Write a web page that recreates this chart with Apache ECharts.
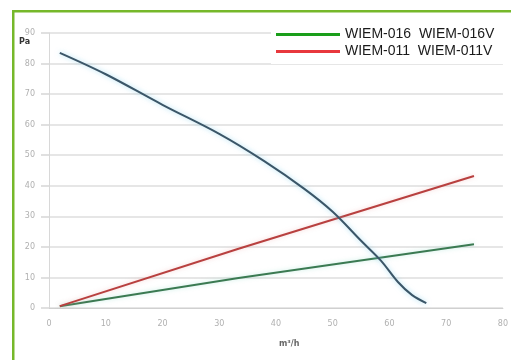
<!DOCTYPE html>
<html><head><meta charset="utf-8">
<script src="https://cdn.jsdelivr.net/npm/echarts@6/dist/echarts.min.js"></script>
<style>html,body{margin:0;padding:0;background:#fff}#c{width:511px;height:360px}</style>
</head><body><div id="c"></div>
<script>
const yTicks = [0,10,20,30,40,50,60,70,80,90];
const xTicks = [0,10,20,30,40,50,60,70,80];
const fanCurve = [[1.9,83.5],[10,76.5],[20,66.5],[30,57],[38,48],[45,39],[50,31.5],[55,22],[58.5,15.5],[61.5,8.5],[64,4.2],[66.5,1.6]];
const wiem016 = [[1.9,0.6],[33.4,9.8],[74.9,20.9]];
const wiem011 = [[1.9,0.6],[33.4,19.4],[74.9,43.2]];
const names = ['WIEM-016  WIEM-016V','WIEM-011  WIEM-011V'];

const chart = echarts.init(document.getElementById('c'), null, {renderer:'canvas'});
chart.setOption({
  animation:false,
  backgroundColor:'#fff',
  grid:{left:49,right:4,top:33,bottom:52},
  xAxis:{type:'value',min:0,max:80,interval:10,
    axisLine:{show:true,lineStyle:{color:'#d0d0d0',width:1}},
    axisTick:{show:false},
    splitLine:{show:false},
    axisLabel:{color:'#b0b0b0',fontSize:8,margin:12,fontFamily:'DejaVu Sans',formatter:v=>xTicks.includes(v)?String(v):''}},
  yAxis:{type:'value',min:0,max:90,interval:10,
    axisLine:{show:true,lineStyle:{color:'#d8d8d8',width:1}},
    axisTick:{show:true,length:8,lineStyle:{color:'#e0e0e0',width:2}},
    splitLine:{show:true,lineStyle:{color:'#e6e6e6',width:2}},
    axisLabel:{color:'#b0b0b0',fontSize:8,margin:14,fontFamily:'DejaVu Sans',formatter:v=>yTicks.includes(v)?String(v):''}},
  legend:{orient:'vertical',left:271,top:24,padding:[2,9,4,5],backgroundColor:'#fff',
    itemWidth:64,itemHeight:3,itemGap:0,icon:'rect',
    textStyle:{fontFamily:'Liberation Sans',fontSize:14,color:'#1a1a1a',lineHeight:17,padding:[0,0,0,0]},
    data:[{name:names[0],itemStyle:{color:'#1a9e1a'}},{name:names[1],itemStyle:{color:'#e8383d'}}]},
  series:[
    {name:'fan',type:'line',data:fanCurve,smooth:0.35,showSymbol:false,
      lineStyle:{color:'#3b5668',width:2,shadowColor:'rgba(110,200,235,0.6)',shadowBlur:5},z:5},
    {name:names[0],type:'line',data:wiem016,showSymbol:false,
      itemStyle:{color:'#3b7a52'},lineStyle:{color:'#3b7a52',width:2,shadowColor:'rgba(140,220,200,0.5)',shadowBlur:4}},
    {name:names[1],type:'line',data:wiem011,showSymbol:false,
      itemStyle:{color:'#b8403f'},lineStyle:{color:'#b8403f',width:2,shadowColor:'rgba(240,170,170,0.5)',shadowBlur:4}}
  ],
  graphic:[
    {type:'rect',shape:{x:12,y:10,width:2.5,height:350},style:{fill:'#76b82a'},z:100},
    {type:'rect',shape:{x:12,y:10,width:499,height:2.5},style:{fill:'#76b82a'},z:100},
    {type:'text',left:19,top:38,style:{text:'Pa',font:'bold 8px DejaVu Sans',fill:'#333'},z:100},
    {type:'text',left:279,top:340,style:{text:'m³/h',font:'bold 8px DejaVu Sans',fill:'#666'},z:100}
  ]
});
</script></body></html>
